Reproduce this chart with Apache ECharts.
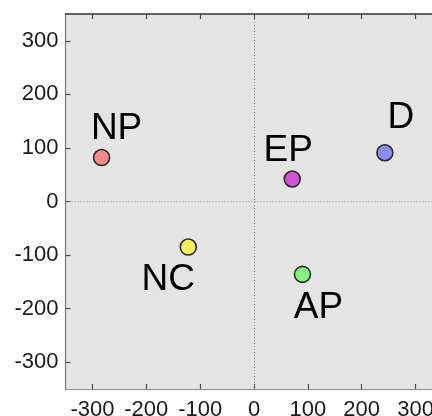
<!DOCTYPE html>
<html>
<head>
<meta charset="utf-8">
<script src="https://cdn.jsdelivr.net/npm/echarts@6/dist/echarts.min.js"></script>
<style>
  html, body { margin: 0; padding: 0; background: #ffffff; }
  #chart { width: 432px; height: 416px; }
</style>
</head>
<body>
<div id="chart"></div>
<script>
// Group positions on the two score axes
const groups = ['NP', 'EP', 'D', 'NC', 'AP'];
const xScores = [-283, 71, 243, -122, 90];
const yScores = [82, 42, 91, -85, -136];

// Tick values shown on both axes
const tickValues = [-300, -200, -100, 0, 100, 200, 300];

// Marker fills and label placement (style only)
const fills = ['#f28b8b', '#d250d2', '#8c8cf5', '#f5f064', '#82f082'];
const labelOffsets = [[15, -29], [-4, -28], [16, -35], [-20, 33], [16, 33]];

const font = '"Liberation Sans", Arial, sans-serif';

const points = groups.map((name, i) => ({
  name: name,
  value: [xScores[i], yScores[i]],
  itemStyle: { color: fills[i] },
  label: { offset: labelOffsets[i] }
}));

const tickStyle = { show: true, inside: true, length: 5, customValues: tickValues, lineStyle: { color: '#4a4a4a', width: 1.2 } };

const valueAxisBase = {
  type: 'value',
  min: -350,
  max: 350,
  splitLine: { show: false },
  axisTick: tickStyle,
  axisLabel: { customValues: tickValues, color: '#1a1a1a', fontSize: 22, fontFamily: font }
};

const chart = echarts.init(document.getElementById('chart'), null, { renderer: 'canvas' });
chart.setOption({
  animation: false,
  backgroundColor: '#ffffff',
  grid: {
    left: 65.5, top: 14, width: 377, height: 375,
    outerBoundsMode: 'none',
    show: true, backgroundColor: '#e4e4e4', borderWidth: 0
  },
  xAxis: [
    Object.assign({}, valueAxisBase, {
      gridIndex: 0,
      position: 'bottom',
      axisLine: { show: true, onZero: false, lineStyle: { color: '#8a8a8a', width: 1.2 } },
      axisLabel: Object.assign({}, valueAxisBase.axisLabel, { margin: 10 })
    }),
    Object.assign({}, valueAxisBase, {
      gridIndex: 0,
      position: 'top',
      axisLine: { show: true, onZero: false, lineStyle: { color: '#333333', width: 1.5 } },
      axisLabel: { show: false, customValues: tickValues }
    })
  ],
  yAxis: Object.assign({}, valueAxisBase, {
    axisLine: { show: true, onZero: false, lineStyle: { color: '#7a7a7a', width: 1.2 } },
    axisLabel: Object.assign({}, valueAxisBase.axisLabel, { margin: 7 })
  }),
  series: [{
    type: 'scatter',
    xAxisIndex: 0,
    yAxisIndex: 0,
    symbol: 'circle',
    symbolSize: 16,
    itemStyle: { borderColor: '#2a2a2a', borderWidth: 1.6, opacity: 1 },
    label: {
      show: true,
      position: 'inside',
      formatter: '{b}',
      color: '#000000',
      fontSize: 37,
      fontFamily: font,
      align: 'center',
      verticalAlign: 'middle'
    },
    markLine: {
      silent: true,
      symbol: 'none',
      label: { show: false },
      lineStyle: { type: [1, 2], color: '#8c8c8c', width: 1 },
      data: [{ xAxis: 0 }, { yAxis: 0 }]
    },
    data: points
  }]
});
</script>
</body>
</html>
